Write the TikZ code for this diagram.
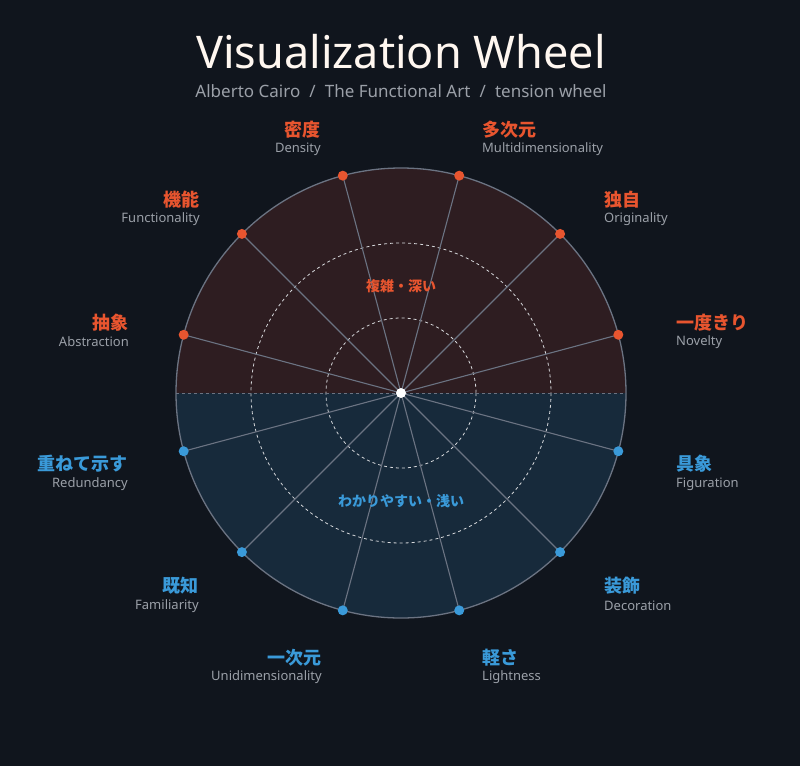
\documentclass[tikz,border=0pt]{standalone}
\usepackage{fontspec}
\setmainfont{Noto Sans}
\newfontfamily\jpfont{Noto Sans CJK JP}
\usetikzlibrary{positioning}
\definecolor{bgc}{HTML}{10151D}
\definecolor{hotc}{HTML}{E8552F}
\definecolor{coolc}{HTML}{3A9AD9}
\definecolor{hotfill}{HTML}{2E1D21}
\definecolor{coolfill}{HTML}{172A3B}
\definecolor{rimc}{HTML}{6B7382}
\definecolor{subc}{HTML}{9BA0A8}
\tikzset{
  jp/.style={font=\jpfont\bfseries\fontsize{18}{18}\selectfont, inner sep=0pt},
  en/.style={font=\fontsize{13}{13}\selectfont, text=subc, inner sep=0pt},
  pin/.style={circle, inner sep=0pt, minimum size=10pt},
  spoke/.style={draw=rimc, line width=1.1pt},
}
\begin{document}
\begin{tikzpicture}[x=1pt,y=-1pt]
\fill[bgc] (0,0) rectangle (800,766);
\useasboundingbox (0,0) rectangle (800,766);
% title
\node[text=white!94!orange, font=\bfseries\fontsize{45}{45}\selectfont] (title) at (401,52) {Visualization Wheel};
\node[text=subc, font=\fontsize{17}{17}\selectfont] (subtitle) at (401,91) {Alberto Cairo \;/\; The Functional Art \;/\; tension wheel};
% wheel halves
\fill[coolfill] (176,393) arc[start angle=180, end angle=0, radius=225] -- cycle;
\fill[hotfill] (176,393) arc[start angle=180, end angle=360, radius=225] -- cycle;
\draw[subc!40, dashed, line width=0.8pt] (401,393) circle[radius=75];
\draw[subc!40, dashed, line width=0.8pt] (401,393) circle[radius=150];
\draw[rimc, dashed, line width=1pt] (176,393) -- (626,393);
\draw[rimc, line width=1.3pt] (401,393) circle[radius=225];
\coordinate (hub) at (401,393);
% pins
\foreach \a [count=\i] in {15,45,75,105,135,165}
  \coordinate (h\i) at ({401+225*cos(\a)},{393-225*sin(\a)});
\foreach \a [count=\i] in {195,225,255,285,315,345}
  \coordinate (c\i) at ({401+225*cos(\a)},{393-225*sin(\a)});
\foreach \n in {h1,h2,h3,h4,h5,h6,c1,c2,c3,c4,c5,c6}
  \draw[spoke] (hub) -- (\n);
\foreach \n in {h1,h2,h3,h4,h5,h6}
  \node[pin, fill=hotc] at (\n) {};
\foreach \n in {c1,c2,c3,c4,c5,c6}
  \node[pin, fill=coolc] at (\n) {};
\node[pin, fill=white] (hubdot) at (hub) {};
% zone labels
\node[text=hotc, font=\jpfont\bfseries\fontsize{14}{14}\selectfont] (deep) at (401,286) {複雑・深い};
\node[text=coolc, font=\jpfont\bfseries\fontsize{14}{14}\selectfont] (easy) at (401,501) {わかりやすい・浅い};
% left labels
\foreach \x/\yj/\ye/\j/\e/\c in {321/130/149/密度/Density/hotc,
    200/200/219/機能/Functionality/hotc,
    129/323/342/抽象/Abstraction/hotc,
    128/464/484/重ねて示す/Redundancy/coolc,
    199/586/606/既知/Familiarity/coolc,
    322/658/677/一次元/Unidimensionality/coolc}{
  \node[jp, text=\c, anchor=east] at (\x,\yj) {\j};
  \node[en, anchor=east] at (\x,\ye) {\e};
}
% right labels
\foreach \x/\yj/\ye/\j/\e/\c in {482/130/149/多次元/Multidimensionality/hotc,
    604/200/219/独自/Originality/hotc,
    676/323/342/一度きり/Novelty/hotc,
    676/464/484/具象/Figuration/coolc,
    604/586/606/装飾/Decoration/coolc,
    482/658/677/軽さ/Lightness/coolc}{
  \node[jp, text=\c, anchor=west] at (\x,\yj) {\j};
  \node[en, anchor=west] at (\x,\ye) {\e};
}
\end{tikzpicture}
\end{document}
